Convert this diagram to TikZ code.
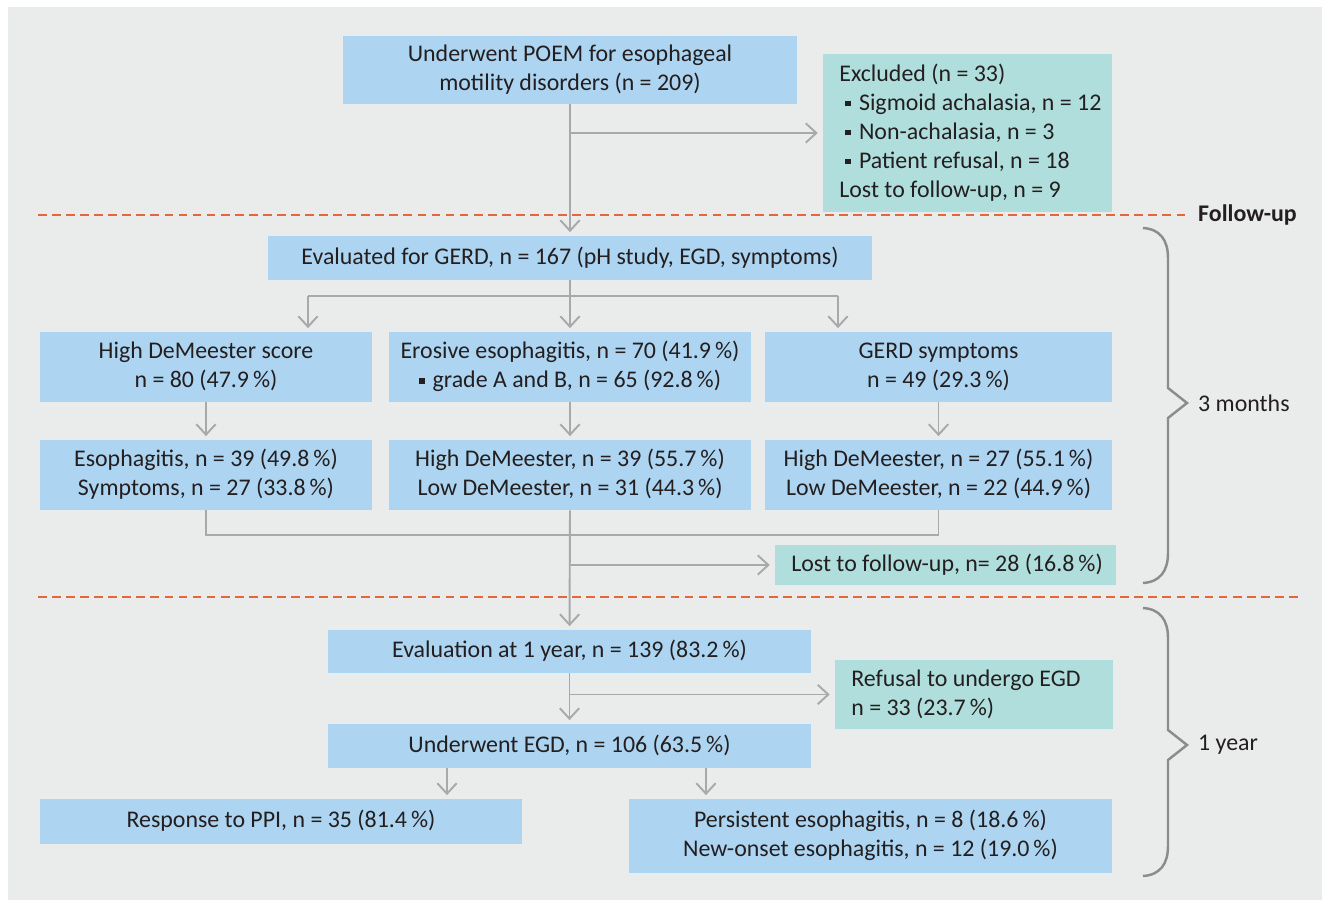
\documentclass[tikz,border=0pt]{standalone}
\usepackage{fontspec}
\setmainfont{Carlito}
\usetikzlibrary{arrows.meta}
\definecolor{bggray}{HTML}{EAECEB}
\definecolor{boxblue}{HTML}{ADD4F0}
\definecolor{boxteal}{HTML}{B0DEDC}
\definecolor{linegray}{HTML}{A7A9AB}
\definecolor{dashred}{HTML}{E4673C}
\definecolor{bracegray}{HTML}{8A8C8E}
\definecolor{txt}{HTML}{231F20}
\newcommand{\sqbul}{\rule[0.35ex]{0.5ex}{0.5ex}\hspace{0.16cm}}

\begin{document}
\begin{tikzpicture}[x=0.02cm, y=-0.02cm,
  every node/.style={font=\fontsize{13.6}{16.5}\selectfont, text=txt},
  box/.style={fill=boxblue, inner sep=0pt, align=center,
    execute at begin node={\spaceskip=0pt\xspaceskip=0pt}},
  exbox/.style={box, fill=boxteal, inner xsep=0.32cm, align=flush left, anchor=west},
  oneline/.style={text height=9pt, text depth=1.8pt},
  twoline/.style={text height=24.5pt, text depth=0.8pt},
  extwo/.style={text height=4pt, text depth=13.3pt},
  arr/.style={draw=linegray, line width=1.1pt, -{Straight Barb[length=6pt, width=11pt]}, shorten >=2pt},
  link/.style={draw=linegray, line width=1.1pt},
  sepline/.style={draw=dashred, line width=1.6pt, dash pattern=on 5pt off 3pt},
  brc/.style={draw=bracegray, line width=1.4pt}]
  \useasboundingbox (0,0) rectangle (1330,903);
  \fill[bggray] (8,7) rectangle (1322,900);

  % Enrolment
  \node[box, twoline, minimum width=9.08cm, minimum height=1.36cm] (poem) at (570,70)
    {Underwent POEM for esophageal\\motility disorders (n = 209)};
  \node[exbox, text height=1pt, text depth=59.8pt, text width=5.14cm, minimum height=3.16cm] (excl) at (823,133)
    {\mbox{Excluded (n = 33)}\\
     \mbox{\hspace*{0.12cm}\sqbul Sigmoid achalasia, n = 12}\\
     \mbox{\hspace*{0.12cm}\sqbul Non-achalasia, n = 3}\\
     \mbox{\hspace*{0.12cm}\sqbul Patient refusal, n = 18}\\
     \mbox{Lost to follow-up, n = 9}};

  % Follow-up separators
  \draw[sepline] (38,215) -- (1188,215);
  \draw[sepline] (38,597) -- (1302,597);
  \node[anchor=west, font=\fontsize{13.6}{16.5}\selectfont\bfseries] (fu) at (1192,215) {Follow-up};

  % 3 months
  \node[box, oneline, minimum width=12.08cm, minimum height=0.88cm] (gerd) at (570,258)
    {Evaluated for GERD, n = 167 (pH study, EGD, symptoms)};
  \node[box, twoline, minimum width=6.64cm, minimum height=1.4cm] (hdm) at (206,367)
    {High DeMeester score\\n = 80 (47.9\,\%)};
  \node[box, twoline, minimum width=7.24cm, minimum height=1.4cm] (ero) at (570,367)
    {Erosive esophagitis, n = 70 (41.9\,\%)\\\sqbul grade A and B, n = 65 (92.8\,\%)};
  \node[box, twoline, minimum width=6.94cm, minimum height=1.4cm] (sym) at (938.5,367)
    {GERD symptoms\\n = 49 (29.3\,\%)};
  \node[box, twoline, minimum width=6.64cm, minimum height=1.4cm] (hdm2) at (206,475)
    {Esophagitis, n = 39 (49.8\,\%)\\Symptoms, n = 27 (33.8\,\%)};
  \node[box, twoline, minimum width=7.24cm, minimum height=1.4cm] (ero2) at (570,475)
    {High DeMeester, n = 39 (55.7\,\%)\\Low DeMeester, n = 31 (44.3\,\%)};
  \node[box, twoline, minimum width=6.94cm, minimum height=1.4cm] (sym2) at (938.5,475)
    {High DeMeester, n = 27 (55.1\,\%)\\Low DeMeester, n = 22 (44.9\,\%)};
  \node[exbox, oneline, text width=6.18cm, minimum height=0.8cm] (lost) at (775,565)
    {\mbox{Lost to follow-up, n= 28 (16.8\,\%)}};

  % 1 year
  \node[box, oneline, minimum width=9.66cm, minimum height=0.86cm] (yr1) at (569.5,651.5)
    {Evaluation at 1 year, n = 139 (83.2\,\%)};
  \node[exbox, extwo, text width=4.92cm, minimum height=1.38cm] (refuse) at (835,694.5)
    {\mbox{Refusal to undergo EGD}\\\mbox{n = 33 (23.7\,\%)}};
  \node[box, oneline, minimum width=9.66cm, minimum height=0.88cm] (egd) at (569.5,746)
    {Underwent EGD, n = 106 (63.5\,\%)};
  \node[box, oneline, minimum width=9.64cm, minimum height=0.9cm] (ppi) at (281,821.5)
    {Response to PPI, n = 35 (81.4\,\%)};
  \node[box, twoline, minimum width=9.66cm, minimum height=1.48cm] (pers) at (870.5,836)
    {Persistent esophagitis, n = 8 (18.6\,\%)\\New-onset esophagitis, n = 12 (19.0\,\%)};

  % Connectors
  \draw[arr] (poem.south) -- (gerd.north);
  \draw[arr, shorten >=3pt] (poem.south |- excl.west) -- (excl.west);
  \coordinate (split) at (570,296);
  \coordinate (la) at (308,296);
  \coordinate (ra) at (838,296);
  \draw[link] (gerd.south) -- (split);
  \draw[link] (la) -- (ra);
  \draw[arr] (la) -- (hdm.north -| la);
  \draw[arr] (split) -- (ero.north);
  \draw[arr] (ra) -- (sym.north -| ra);
  \foreach \a/\b in {hdm/hdm2, ero/ero2, sym/sym2}
    \draw[arr] (\a.south) -- (\b.north);
  \coordinate (merge) at (570,535);
  \draw[link] (hdm2.south) |- (merge) -| (sym2.south);
  \draw[arr] (ero2.south) -- (yr1.north);
  \draw[arr, shorten >=3pt] (ero2.south |- lost.west) -- (lost.west);
  \draw[arr] (yr1.south) -- (egd.north);
  \draw[arr, shorten >=3pt] (yr1.south |- refuse.west) -- (refuse.west);
  \coordinate (pa) at (447,0);
  \coordinate (pb) at (706,0);
  \draw[arr] (egd.south -| pa) -- (ppi.north -| pa);
  \draw[arr] (egd.south -| pb) -- (pers.north -| pb);

  % Braces
  \draw[brc] (1143,228) .. controls (1160,229) and (1168,240) .. (1168,258) -- (1168,388)
    -- (1187,403) -- (1168,418) -- (1168,553) .. controls (1168,571) and (1160,582) .. (1143,583);
  \node[anchor=west] (m3) at (1192,403) {3 months};
  \draw[brc] (1143,608) .. controls (1160,609) and (1168,620) .. (1168,638) -- (1168,730)
    -- (1187,745) -- (1168,760) -- (1168,846) .. controls (1168,864) and (1160,875) .. (1143,876);
  \node[anchor=west] (y1) at (1192,745) {1 year};
\end{tikzpicture}
\end{document}
